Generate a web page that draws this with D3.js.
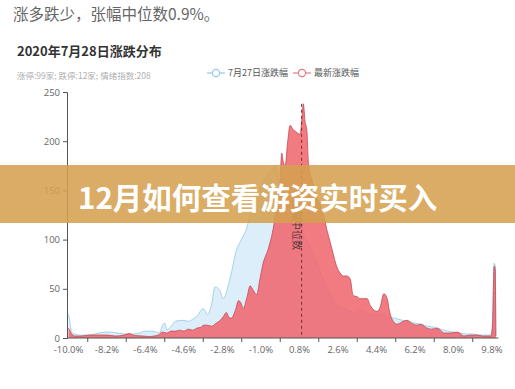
<!DOCTYPE html>
<html><head><meta charset="utf-8">
<script src="https://cdn.jsdelivr.net/npm/d3@7/dist/d3.min.js"></script>
<style>
html,body{margin:0;padding:0;background:#fff;}
svg{display:block;font-family:"Noto Sans CJK SC","Noto Sans",sans-serif;}
</style></head>
<body><svg id="c" width="515" height="389"></svg>
<script>
// ---- data ----
const headline = "涨多跌少，张幅中位数0.9%。";
const chartTitle = "2020年7月28日涨跌分布";
const chartSubtitle = "涨停:99家; 跌停:12家; 情绪指数:208";
const bannerText = "12月如何查看游资实时买入";
const seriesNames = ["7月27日涨跌幅", "最新涨跌幅"];
const medianValue = 0.9;
const medianLabel = "涨幅中位数";
const yTicks = [0, 50, 100, 150, 200, 250];
const xTickLabels = [-10.0, -8.2, -6.4, -4.6, -2.8, -1.0, 0.8, 2.6, 4.4, 6.2, 8.0, 9.8];

const bluePct = [-10.0,-9.95,-9.85,-9.7,-9.5,-9.2,-8.9,-8.6,-8.3,-8.0,-7.7,-7.3,-7.0,-6.7,-6.4,-6.1,-5.9,-5.75,-5.6,-5.5,-5.4,-5.2,-5.0,-4.7,-4.4,-4.2,-4.0,-3.7,-3.5,-3.3,-3.15,-2.92,-2.77,-2.45,-2.14,-1.99,-1.8,-1.66,-1.5,-1.35,-1.2,-1.05,-0.9,-0.75,-0.6,-0.45,-0.35,-0.2,0.0,0.2,0.4,0.6,0.8,1.0,1.2,1.4,1.6,1.8,2.0,2.2,2.4,2.6,2.8,3.0,3.2,3.4,3.6,3.8,4.0,4.3,4.6,5.0,5.3,5.6,5.9,6.2,6.5,6.8,7.1,7.4,7.7,8.0,8.3,8.6,8.9,9.2,9.5,9.74,9.82,9.9,9.95,9.98];
const blueCount = [24,18,6,4,3,3,3.5,5,6,6,5,4,4,5,7,7,6,5,13,15,8,12,17,18,17,19,22,30,24,35,52,48,40,60,90,97,105,112,128,135,145,150,158,163,168,172,176,162,140,125,118,110,106,103,96,86,77,66,56,46,38,33,30,29,27,25,28,27,25,23,24,21,20,18,17,15,14,12,11,9,7,6,5,4,4,3,3,3,15,76,74,3];

const redPct = [-10.0,-9.95,-9.85,-9.7,-9.4,-9.0,-8.6,-8.2,-7.8,-7.4,-7.15,-6.9,-6.5,-6.2,-6.0,-5.8,-5.6,-5.4,-5.2,-5.0,-4.8,-4.6,-4.4,-4.2,-4.0,-3.8,-3.7,-3.5,-3.3,-3.1,-2.9,-2.75,-2.62,-2.5,-2.4,-2.2,-2.05,-1.95,-1.83,-1.65,-1.51,-1.35,-1.2,-1.05,-0.9,-0.67,-0.44,-0.26,-0.11,-0.03,0.03,0.13,0.25,0.36,0.5,0.67,0.83,0.92,0.98,1.06,1.14,1.22,1.39,1.61,1.77,1.91,2.08,2.24,2.38,2.55,2.7,2.85,3.02,3.17,3.31,3.49,3.64,3.96,4.11,4.43,4.58,4.74,4.9,5.0,5.13,5.36,5.57,5.83,6.03,6.3,6.46,6.77,6.97,7.24,7.39,7.55,7.86,8.18,8.49,8.8,9.11,9.36,9.58,9.74,9.82,9.9,9.95,9.98];
const redCount = [10,8,4,2,2,3,3,3,2,3,4.5,2.5,2,1.5,2,3,6,5,7,7,8,7,9,8,10,11,13,13,12,15,18,22,26,21,20,28,38,36,30,42,53,48,44,60,76,90,110,135,160,188,180,175,200,216,212,209,207,225,238,220,212,177,160,143,135,127,110,97,85,72,66,63,63,60,43,42,40,40,33,27,32,45,40,28,19,14,16,18,15,13,14,10,9,10,8,5,5,6,2,3,3,2,2,2,10,73,70,2];

// ---- drawing ----
const svg = d3.select("#c");
const x = d3.scaleLinear().domain([-10.08, 10.1]).range([66.8, 498.4]);
const y = d3.scaleLinear().domain([0, 250]).range([338, 92]);

svg.append("text").attr("x", 13).attr("y", 20).attr("font-size", 15.5).attr("fill", "#666").text(headline);
svg.append("text").attr("x", 17).attr("y", 56).attr("font-size", 13).attr("font-weight", "bold").attr("fill", "#333").text(chartTitle);
svg.append("text").attr("x", 17).attr("y", 79).attr("font-size", 8.5).attr("fill", "#b0b0b0").text(chartSubtitle);

// legend
const legendColors = ["#96cbe2", "#e27c88"];
const legendX = [207, 293];
seriesNames.forEach((n, i) => {
  const g = svg.append("g").attr("transform", `translate(${legendX[i]},73)`);
  g.append("line").attr("x1", 0).attr("x2", 18).attr("y1", 0).attr("y2", 0).attr("stroke", legendColors[i]).attr("stroke-width", 1.2);
  g.append("circle").attr("cx", 9).attr("cy", 0).attr("r", 3.6).attr("fill", "#fff").attr("stroke", legendColors[i]).attr("stroke-width", 1.2);
  g.append("text").attr("x", 21).attr("y", 3.2).attr("font-size", 9).attr("fill", "#555").text(n);
});

const blueData = bluePct.map((p, i) => [p, blueCount[i]]);
const redData = redPct.map((p, i) => [p, redCount[i]]);
const area = d3.area().x(d => x(d[0])).y0(y(0)).y1(d => y(d[1])).curve(d3.curveMonotoneX);
const line = d3.line().x(d => x(d[0])).y(d => y(d[1])).curve(d3.curveMonotoneX);

svg.append("path").datum(blueData).attr("d", area).attr("fill", "#dbeef9");
svg.append("path").datum(blueData).attr("d", line).attr("fill", "none").attr("stroke", "#a6d2e6").attr("stroke-width", 1);
svg.append("path").datum(redData).attr("d", area).attr("fill", "#f06870").attr("fill-opacity", 0.88);
svg.append("path").datum(redData).attr("d", line).attr("fill", "none").attr("stroke", "#c24a56").attr("stroke-width", 0.8);

// median line
const peak = d3.max(redCount);
svg.append("line").attr("x1", x(medianValue)).attr("x2", x(medianValue)).attr("y1", y(peak)).attr("y2", y(0))
  .attr("stroke", "#7a2a2e").attr("stroke-width", 1).attr("stroke-dasharray", "3,3");
svg.append("text").attr("transform", `translate(${x(medianValue) - 9},200) rotate(90)`)
  .attr("font-size", 10).attr("fill", "#5a3a3a").text(medianLabel);

// axes
const yAxis = svg.append("g").attr("transform", "translate(67,0)")
  .call(d3.axisLeft(y).tickValues(yTicks).tickSize(4).tickPadding(3));
yAxis.select(".domain").attr("stroke", "#555");
yAxis.selectAll(".tick line").attr("stroke", "#555");
yAxis.selectAll("text").attr("font-size", 9.5).attr("fill", "#666").attr("font-family", "'Open Sans',sans-serif");

const xAxisG = svg.append("g").attr("transform", "translate(0,338)");
xAxisG.append("line").attr("x1", 67).attr("x2", x(10.1)).attr("stroke", "#555");
xAxisG.selectAll(".tk").data(xTickLabels.slice(0, -1)).enter().append("line")
  .attr("x1", d => x(d + 0.9)).attr("x2", d => x(d + 0.9)).attr("y1", 0).attr("y2", 4).attr("stroke", "#555");
xAxisG.selectAll(".lb").data(xTickLabels).enter().append("text")
  .attr("x", d => x(d)).attr("y", 15).attr("text-anchor", "middle").attr("font-size", 9.5)
  .attr("fill", "#666").attr("font-family", "'Open Sans',sans-serif").text(d => d.toFixed(1) + "%");

// banner
svg.append("rect").attr("x", 0).attr("y", 165).attr("width", 515).attr("height", 58).attr("fill", "rgb(213,160,80)").attr("fill-opacity", 0.88);
svg.append("text").attr("x", 78).attr("y", 196).attr("dominant-baseline", "central").attr("font-size", 29.5)
  .attr("font-weight", "bold").attr("fill", "#fff").text(bannerText);
</script></body></html>
